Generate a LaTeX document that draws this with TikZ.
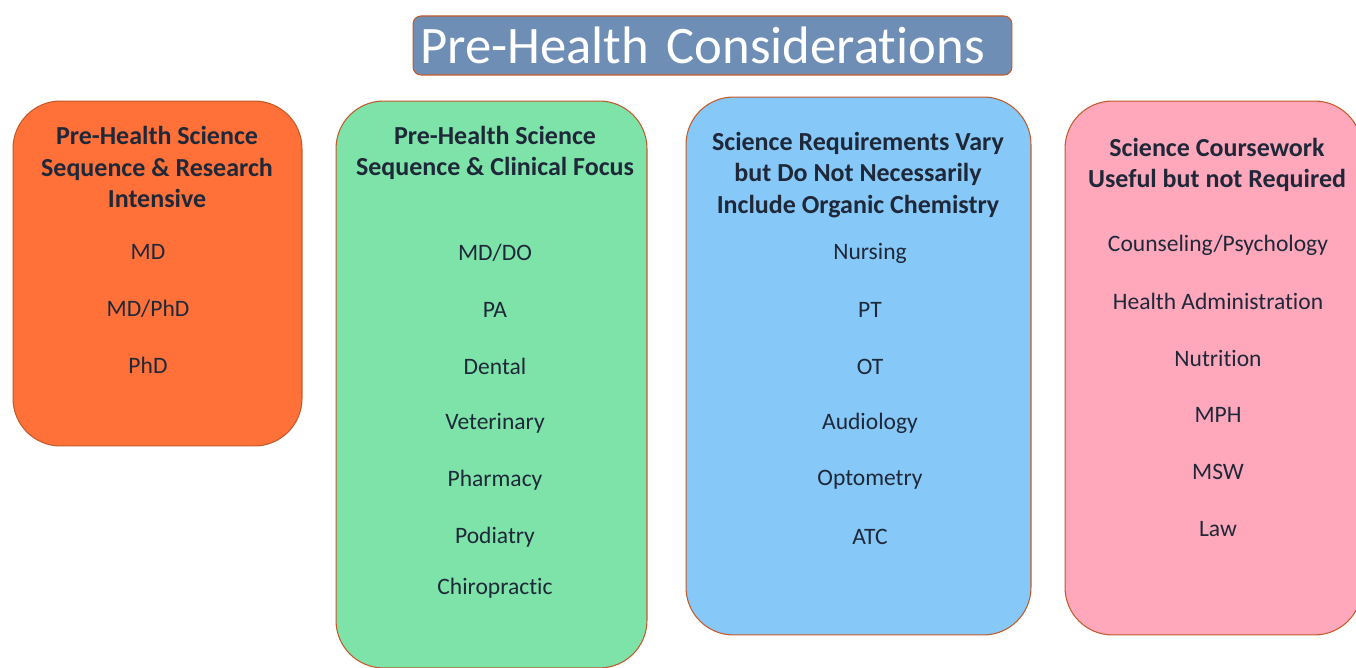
\documentclass[tikz,border=0pt]{standalone}
\usepackage{fontspec}
\setmainfont{Carlito}[Ligatures={NoCommon}]
\usepackage{tikz}
\usetikzlibrary{positioning}

\definecolor{titleblue}{RGB}{111,142,181}
\definecolor{boxorange}{RGB}{255,113,57}
\definecolor{boxgreen}{RGB}{126,227,169}
\definecolor{boxblue}{RGB}{134,200,248}
\definecolor{boxpink}{RGB}{255,168,188}
\definecolor{edge}{RGB}{196,89,40}
\definecolor{ink}{RGB}{31,40,56}

\begin{document}
\begin{tikzpicture}[x=0.02cm, y=-0.02cm, node distance=1.136cm, on grid]
  \tikzstyle{card} = [rectangle, rounded corners=0.95cm, draw=edge, line width=0.6pt]
  \tikzstyle{head} = [align=center, text=ink, font=\bfseries\fontsize{14.8}{18.1}\selectfont]
  \tikzstyle{item} = [text=ink, font=\fontsize{13.4}{15}\selectfont]

  \useasboundingbox (0,0) rectangle (1356,668);
  \clip (0,0) rectangle (1356,668);

  % title
  \node[rectangle, rounded corners=0.16cm, draw=edge, line width=0.6pt, fill=titleblue,
        minimum width=11.98cm, minimum height=1.18cm, text width=11.7cm, inner xsep=0.14cm,
        align=left, text=white, font=\fontsize{30}{34}\selectfont] (title) at (712.5,45.5)
        {Pre-Health Considerations};

  % the four columns
  \node[card, fill=boxorange, minimum width=5.78cm, minimum height=6.9cm] (research) at (157.5,273.5) {};
  \node[card, fill=boxgreen, minimum width=6.22cm, minimum height=11.34cm] (clinical) at (491.5,384.5) {};
  \node[card, fill=boxblue, minimum width=6.9cm, minimum height=10.76cm] (vary) at (858.5,366) {};
  \node[card, fill=boxpink, minimum width=5.94cm, minimum height=10.68cm] (useful) at (1213.5,368) {};

  \node[head] (researchhead) at (157,167) {Pre-Health Science\\Sequence \& Research\\Intensive};
  \node[head] (clinicalhead) at (495,153) {Pre-Health Science\\Sequence \& Clinical Focus};
  \node[head] (varyhead) at (858,175) {Science Requirements Vary\\but Do Not Necessarily\\Include Organic Chemistry};
  \node[head] (usefulhead) at (1217,165) {Science Coursework\\Useful but not Required};

  % research intensive
  \node[item] (md) at (148,252) {MD};
  \node[item, below=of md] (mdphd) {MD/PhD};
  \node[item, below=of mdphd] (phd) {PhD};

  % clinical focus
  \node[item] (mddo) at (495,253) {MD/DO};
  \node[item, below=of mddo] (pa) {PA};
  \node[item, below=of pa] (dental) {Dental};
  \node[item, below=of dental] (vet) {Veterinary};
  \node[item, below=of vet] (pharm) {Pharmacy};
  \node[item, below=of pharm] (podia) {Podiatry};
  \node[item, below=1.02cm of podia] (chiro) {Chiropractic};

  % requirements vary
  \node[item] (nursing) at (870,253) {Nursing};
  \node[item, below=of nursing] (pt) {PT};
  \node[item, below=of pt] (ot) {OT};
  \node[item, below=of ot] (audio) {Audiology};
  \node[item, below=of audio] (opto) {Optometry};
  \node[item, below=of opto] (atc) {ATC};

  % useful but not required
  \node[item] (couns) at (1218,245) {Counseling/Psychology};
  \node[item, below=of couns] (admin) {Health Administration};
  \node[item, below=of admin] (nutri) {Nutrition};
  \node[item, below=of nutri] (mph) {MPH};
  \node[item, below=of mph] (msw) {MSW};
  \node[item, below=of msw] (law) {Law};
\end{tikzpicture}
\end{document}
